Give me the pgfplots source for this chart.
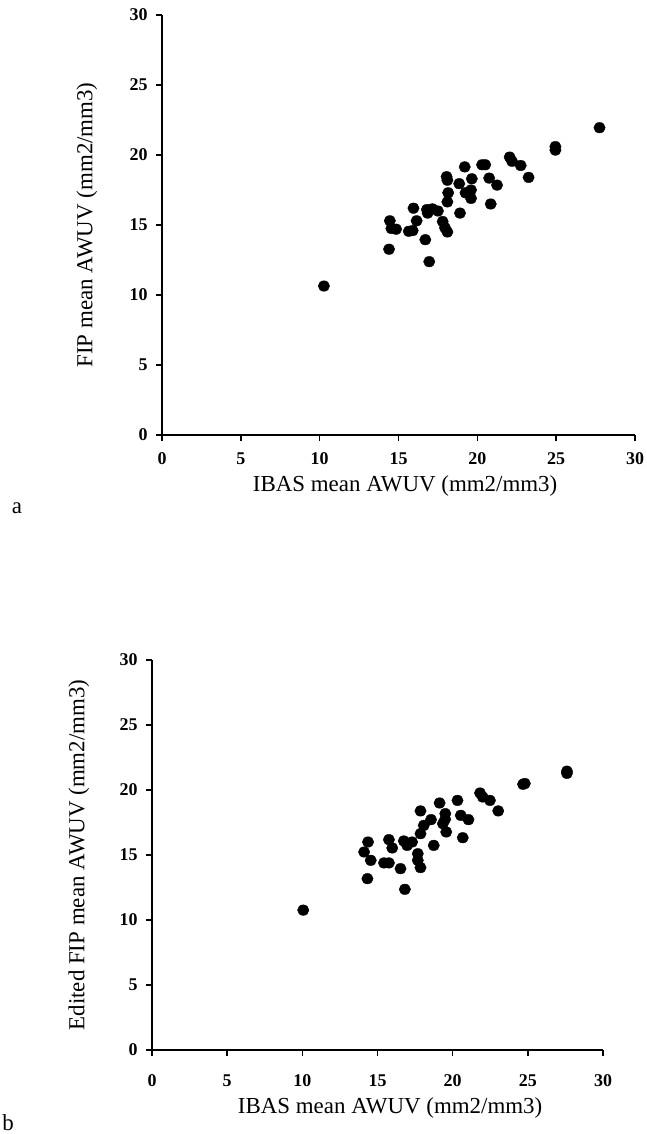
\documentclass[border=0pt]{standalone}
\usepackage{fontspec}
\setmainfont{Liberation Serif}
\usepackage{pgfplots}
\pgfplotsset{compat=1.18}
\begin{document}
\begin{tikzpicture}
\useasboundingbox (0,0) rectangle (647bp,1134bp);
\pgfplotsset{
  myax/.style={
    scale only axis, anchor=south west,
    xmin=0, xmax=30, ymin=0, ymax=30,
    axis lines=left, axis line style={-, line width=2bp, black},
    xtick={0,5,...,30}, ytick={0,5,...,30},
    tick align=outside, major tick length=6bp,
    tick style={line width=1.6bp, black},
    /pgf/number format/assume math mode=true,
    ticklabel style={font=\fontsize{18}{18}\bfseries\selectfont},
    xticklabel style={anchor=center, yshift=-18bp},
    yticklabel style={anchor=east, xshift=-5bp},
    label style={font=\fontsize{23}{23}\selectfont},
    clip=false,
  },
  dots/.style={only marks, mark=*, mark size=5.3pt, mark options={xscale=1.08, fill=black, draw=black}},
}
\begin{axis}[myax, at={(162bp,699bp)}, width=473bp, height=420bp,
  xlabel={IBAS mean AWUV (mm2/mm3)},
  xlabel style={at={(axis description cs:0.514,0)}, anchor=center, yshift=-51bp},
  ylabel={FIP mean AWUV (mm2/mm3)},
  ylabel style={at={(axis description cs:-0.1586,0.5)}, anchor=center},
]
\addplot[dots] table {
10.27 10.64
14.40 13.27
14.45 15.30
14.55 14.75
14.85 14.70
15.65 14.55
15.90 14.60
15.95 16.20
16.15 15.30
16.70 13.95
16.95 12.38
16.80 16.10
16.85 15.85
17.15 16.15
17.50 16.00
17.80 15.25
17.95 14.80
18.10 14.50
18.10 16.65
18.15 17.30
18.05 18.45
18.10 18.20
18.85 17.95
18.90 15.85
19.20 19.15
19.25 17.30
19.60 16.90
19.60 17.50
19.65 18.30
20.30 19.30
20.50 19.30
20.75 18.35
21.25 17.85
20.85 16.50
22.05 19.85
22.20 19.55
22.75 19.25
23.25 18.40
24.95 20.60
24.95 20.35
27.75 21.95
};
\end{axis}
\begin{axis}[myax, at={(152bp,84bp)}, width=451bp, height=390bp,
  xticklabel style={yshift=-7bp},
  xlabel={IBAS mean AWUV (mm2/mm3)},
  xlabel style={at={(axis description cs:0.528,0)}, anchor=center, yshift=-58bp},
  ylabel={Edited FIP mean AWUV (mm2/mm3)},
  ylabel style={at={(axis description cs:-0.162,0.5)}, anchor=center},
]
\addplot[dots] table {
10.06 10.76
14.33 13.18
14.11 15.23
14.37 16.00
14.55 14.59
15.43 14.39
15.76 14.39
15.76 16.18
15.98 15.54
16.53 13.95
16.82 12.36
16.75 16.08
16.97 15.74
17.30 16.00
17.68 15.10
17.68 14.59
17.86 14.03
17.86 16.64
18.08 17.28
17.86 18.39
18.74 15.74
18.56 17.72
19.13 19.00
19.51 18.18
19.35 17.41
19.50 17.75
19.57 16.77
20.32 19.20
20.54 18.05
21.05 17.72
20.67 16.33
21.82 19.77
22.00 19.46
22.48 19.20
23.03 18.39
24.68 20.44
24.80 20.50
27.60 21.28
27.60 21.45
};
\end{axis}
\node[font=\fontsize{23}{23}\selectfont, anchor=center] at (17bp,626bp) {a};
\node[font=\fontsize{23}{23}\selectfont, anchor=center] at (8bp,11bp) {b};
\end{tikzpicture}
\end{document}
